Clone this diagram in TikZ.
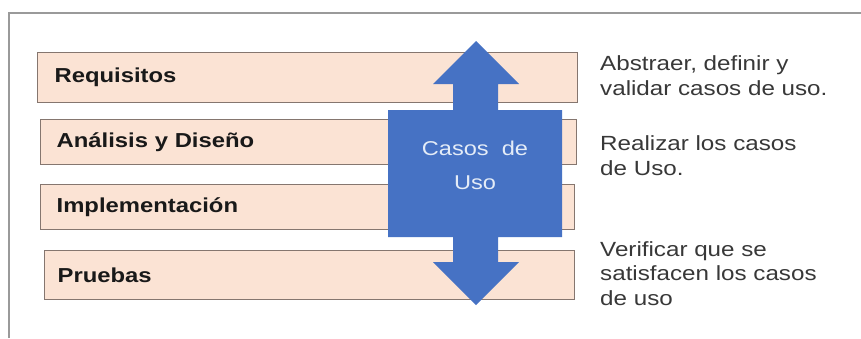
\documentclass[tikz,border=0pt]{standalone}
\usepackage{fontspec}
\setmainfont{Liberation Sans}[FakeStretch=1.18]
\definecolor{peach}{HTML}{FBE3D4}
\definecolor{boxline}{HTML}{85766F}
\definecolor{arrowblue}{HTML}{4672C4}
\definecolor{frameline}{HTML}{9A9A9A}
\definecolor{desctext}{HTML}{383838}
\definecolor{casostext}{HTML}{E4ECF7}
\begin{document}
\begin{tikzpicture}[x=1pt,y=-1pt,
  phasebox/.style={draw=boxline, line width=1.3pt, fill=peach, anchor=north west,
    inner xsep=0pt, inner ysep=0pt, align=left,
    font=\fontsize{20.2}{23}\selectfont\bfseries, text=black!90},
  desc/.style={anchor=base west, align=left, inner sep=0pt, text=desctext,
    font=\fontsize{20.5}{24.5}\selectfont},
  casos/.style={align=center, text=casostext, inner sep=0pt,
    font=\fontsize{20}{34}\selectfont}]
\useasboundingbox (0,0) rectangle (861,338);
\fill[white] (0,0) rectangle (861,338);
% frame
\draw[frameline, line width=2pt] (9,338) -- (9,13) -- (861,13);
% phase boxes
\node[phasebox, minimum width=540pt, minimum height=50pt, text width=540pt] (req) at (37,52) {\hspace*{17pt}Requisitos};
\node[phasebox, minimum width=536pt, minimum height=45pt, text width=536pt] (ana) at (40,119) {\hspace*{16pt}Análisis y Diseño};
\node[phasebox, minimum width=534pt, minimum height=45pt, text width=534pt] (imp) at (40,184) {\hspace*{16pt}Implementación};
\node[phasebox, minimum width=530pt, minimum height=49pt, text width=530pt] (pru) at (44,250) {\hspace*{13pt}Pruebas};
% double arrow
\fill[arrowblue] (476,41) -- (519,84) -- (498,84) -- (498,110) -- (562,110) -- (562,237)
  -- (498,237) -- (498,262) -- (519,262) -- (476,305) -- (433,262) -- (453,262)
  -- (453,237) -- (388,237) -- (388,110) -- (453,110) -- (453,84) -- (433,84) -- cycle;
\node[casos] (cu) at (475,165) {Casos\ \ de\\Uso};
% descriptions (base anchor = baseline of last line)
\node[desc] (d1) at (600,95) {Abstraer, definir y\\validar casos de uso.};
\node[desc] (d2) at (600,175) {Realizar los casos\\de Uso.};
\node[desc] (d3) at (600,305) {Verificar que se\\satisfacen los casos\\de uso};
\end{tikzpicture}
\end{document}
